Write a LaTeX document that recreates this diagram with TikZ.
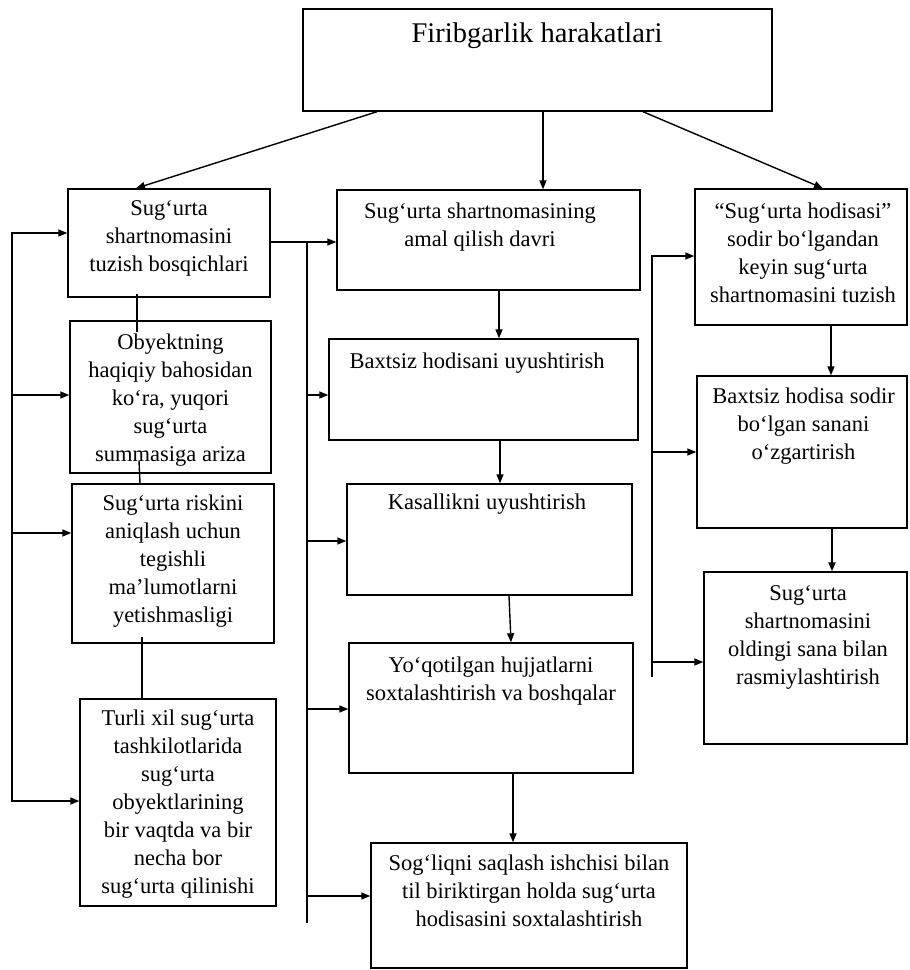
\documentclass[tikz,border=0pt]{standalone}
\usepackage{fontspec}
\setmainfont{Liberation Serif}
\usetikzlibrary{arrows.meta,calc}
\begin{document}
\begin{tikzpicture}[x=1pt,y=-1pt,
  box/.style={draw, line width=1.4pt, inner sep=0pt},
  txt/.style={align=center, font=\fontsize{22.5}{28}\selectfont, inner sep=0pt},
  ln/.style={line width=1.4pt},
  arr/.style={line width=1.4pt, -{Triangle[length=9pt,width=7pt]}},
  darr/.style={line width=1.4pt, {Triangle[length=9pt,width=7pt]}-{Triangle[length=9pt,width=7pt]}}]
\useasboundingbox (0,0) rectangle (910,970);
% boxes
\node[box, minimum width=469pt, minimum height=102pt] (T) at (537.5,60) {};
\node[box, minimum width=202pt, minimum height=108pt] (L1) at (169,243) {};
\node[box, minimum width=201pt, minimum height=152pt] (L2) at (170.5,397) {};
\node[box, minimum width=202pt, minimum height=159pt] (L3) at (173,563.5) {};
\node[box, minimum width=196pt, minimum height=207pt] (L4) at (178,802.5) {};
\node[box, minimum width=303pt, minimum height=100pt] (M1) at (488.5,240) {};
\node[box, minimum width=309pt, minimum height=101pt] (M2) at (483.5,389.5) {};
\node[box, minimum width=285pt, minimum height=111pt] (M3) at (489.5,539.5) {};
\node[box, minimum width=284pt, minimum height=130pt] (M4) at (491,708) {};
\node[box, minimum width=316pt, minimum height=125pt] (M5) at (529,905.5) {};
\node[box, minimum width=212pt, minimum height=136pt] (R1) at (801,257) {};
\node[box, minimum width=210pt, minimum height=152pt] (R2) at (802,452) {};
\node[box, minimum width=203pt, minimum height=172pt] (R3) at (805.5,658) {};
% texts
\node[txt, font=\fontsize{28.5}{32}\selectfont] (tT) at (537,36) {Firibgarlik harakatlari};
\node[txt] (tL1) at (169,238.5) {Sug‘urta\\shartnomasini\\tuzish bosqichlari};
\node[txt] (tL2) at (170.5,400.5) {Obyektning\\haqiqiy bahosidan\\ko‘ra, yuqori\\sug‘urta\\summasiga ariza};
\node[txt] (tL3) at (173,561) {Sug‘urta riskini\\aniqlash uchun\\tegishli\\ma’lumotlarni\\yetishmasligi};
\node[txt] (tL4) at (178,804) {Turli xil sug‘urta\\tashkilotlarida\\sug‘urta\\obyektlarining\\bir vaqtda va bir\\necha bor\\sug‘urta qilinishi};
\node[txt] (tM1) at (480,227) {Sug‘urta shartnomasining\\amal qilish davri};
\node[txt] (tM2) at (477,363) {Baxtsiz hodisani uyushtirish};
\node[txt] (tM3) at (487,504) {Kasallikni uyushtirish};
\node[txt] (tM4) at (491,681.5) {Yo‘qotilgan hujjatlarni\\soxtalashtirish va boshqalar};
\node[txt] (tM5) at (529,891) {Sog‘liqni saqlash ishchisi bilan\\til biriktirgan holda sug‘urta\\hodisasini soxtalashtirish};
\node[txt] (tR1) at (803,252.5) {“Sug‘urta hodisasi”\\sodir bo‘lgandan\\keyin sug‘urta\\shartnomasini tuzish};
\node[txt] (tR2) at (803.5,426) {Baxtsiz hodisa sodir\\bo‘lgan sanani\\o‘zgartirish};
\node[txt] (tR3) at (808,637) {Sug‘urta\\shartnomasini\\oldingi sana bilan\\rasmiylashtirish};
% title arrows
\draw[arr] (T.south -| 377,0) -- (L1.north -| 136,0);
\draw[arr] (T.south -| 543,0) -- (M1.north -| 543,0);
\draw[arr] (T.south -| 643,0) -- (R1.north -| 823,0);
% left bus
\coordinate (lb1) at (12,233);
\coordinate (lb2) at (12,395);
\coordinate (lb3) at (12,533);
\coordinate (lb4) at (12,801);
\draw[darr] (L1.west |- lb1) -- (lb1) -- (lb4) -- (L4.west |- lb4);
\draw[arr] (lb2) -- (L2.west |- lb2);
\draw[arr] (lb3) -- (L3.west |- lb3);
% left links
\draw[ln] ($(L1.south -| 137,0)+(0,-4)$) -- ($(L2.north -| 137,0)+(0,12)$);
\draw[ln] ($(L2.south -| 139,0)+(0,-13)$) -- (L3.north -| 140,0);
\draw[ln] ($(L3.south -| 142,0)+(0,-7)$) -- (L4.north -| 142,0);
% middle bus
\coordinate (mb0) at (307,242);
\coordinate (mb1) at (307,395);
\coordinate (mb2) at (307,541);
\coordinate (mb3) at (307,709);
\coordinate (mb4) at (307,896);
\coordinate (mbend) at (307,923);
\draw[arr] (L1.east |- mb0) -- (M1.west |- mb0);
\draw[ln] (mb0) -- (mbend);
\draw[arr] (mb1) -- (M2.west |- mb1);
\draw[arr] (mb2) -- (M3.west |- mb2);
\draw[arr] (mb3) -- (M4.west |- mb3);
\draw[arr] (mb4) -- (M5.west |- mb4);
% middle chain
\draw[arr] (M1.south -| 499,0) -- (M2.north -| 499,0);
\draw[arr] (M2.south -| 500,0) -- (M3.north -| 500,0);
\draw[arr] (M3.south -| 509,0) -- (M4.north -| 511,0);
\draw[arr] (M4.south -| 513,0) -- (M5.north -| 513,0);
% right bus
\coordinate (rb1) at (652,256);
\coordinate (rb2) at (652,452);
\coordinate (rb3) at (652,662);
\coordinate (rbend) at (652,677);
\draw[arr] (rbend) -- (rb1) -- (R1.west |- rb1);
\draw[arr] (rb2) -- (R2.west |- rb2);
\draw[arr] (rb3) -- (R3.west |- rb3);
% right chain
\draw[arr] (R1.south -| 831,0) -- (R2.north -| 831,0);
\draw[arr] (R2.south -| 832,0) -- (R3.north -| 832,0);
\end{tikzpicture}
\end{document}
